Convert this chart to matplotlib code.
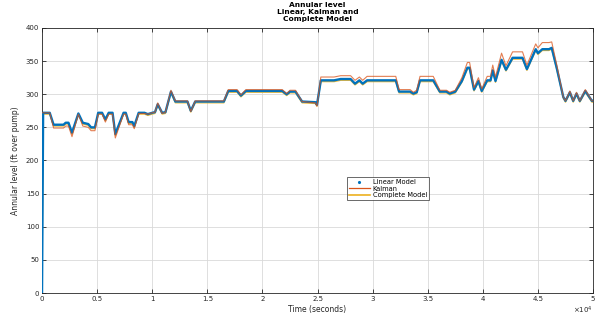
import matplotlib
matplotlib.use("Agg")
import matplotlib.pyplot as plt
from matplotlib.lines import Line2D
import numpy as np

# time in thousands of seconds
time_k = [0.0, 0.1, 0.7, 1.05, 1.95, 2.15, 2.4, 2.72, 3.3, 3.7, 4.2, 4.45, 4.8, 5.1, 5.45, 5.75,
          6.05, 6.4, 6.65, 7.4, 7.6, 7.86, 8.2, 8.37, 8.77, 9.3, 9.6, 10.0, 10.25, 10.5, 10.9,
          11.2, 11.7, 12.1, 13.2, 13.5, 13.9, 16.5, 16.9, 17.7, 18.05, 18.5, 21.8, 22.2, 22.5,
          23.0, 23.6, 24.8, 24.95, 25.3, 26.5, 27.1, 28.0, 28.4, 28.8, 29.1, 29.5, 32.1, 32.4,
          33.4, 33.7, 34.0, 34.3, 35.5, 36.1, 36.7, 37.0, 37.5, 38.1, 38.6, 38.8, 39.2, 39.6,
          39.9, 40.4, 40.7, 40.9, 41.15, 41.7, 42.1, 42.7, 43.6, 44.0, 44.8, 45.0, 45.4, 46.0,
          46.25, 46.7, 47.3, 47.5, 47.9, 48.2, 48.5, 48.8, 49.3, 49.9, 50.0]

linear = [0, 272, 272, 254, 254, 257, 257, 242, 271, 257, 255, 250, 250, 272, 272, 262,
          272, 272, 240, 272, 272, 258, 258, 252, 272, 272, 270, 272, 273, 285, 272,
          273, 304, 289, 289, 275, 289, 289, 305, 305, 298, 305, 305, 300, 304,
          304, 289, 288, 284, 321, 321, 323, 323, 316, 321, 316, 321, 321, 304,
          304, 301, 303, 321, 321, 304, 304, 301, 304, 320, 340, 340, 307, 320,
          305, 321, 321, 336, 320, 352, 337, 355, 355, 338, 368, 362, 368, 368,
          370, 340, 296, 290, 303, 290, 301, 290, 305, 290, 290]

kalman = [272, 272, 272, 249, 249, 252, 252, 236, 270, 252, 250, 245, 245, 270, 270, 258,
          270, 270, 234, 270, 270, 254, 254, 248, 271, 271, 270, 272, 273, 287, 271,
          273, 306, 290, 290, 274, 290, 290, 307, 307, 299, 307, 307, 301, 306,
          306, 289, 287, 282, 326, 326, 328, 328, 321, 326, 321, 327, 327, 307,
          307, 303, 306, 327, 327, 306, 306, 303, 306, 325, 348, 348, 310, 325,
          308, 327, 327, 344, 326, 362, 343, 364, 364, 344, 376, 370, 378, 378,
          379, 345, 296, 290, 305, 290, 303, 290, 307, 290, 290]

complete = [0, 270, 270, 252, 252, 255, 255, 240, 269, 255, 253, 248, 248, 270, 270, 260,
            270, 270, 238, 270, 270, 256, 256, 250, 270, 270, 268, 270, 271, 283, 270,
            271, 302, 287, 287, 273, 287, 287, 303, 303, 296, 303, 303, 298, 302,
            302, 287, 286, 282, 319, 319, 321, 321, 314, 319, 314, 319, 319, 302,
            302, 299, 301, 319, 319, 302, 302, 299, 302, 318, 338, 338, 305, 318,
            303, 319, 319, 334, 318, 350, 335, 353, 353, 336, 366, 360, 366, 366,
            368, 338, 294, 288, 301, 288, 299, 288, 303, 288, 288]

t = np.array(time_k) * 1000.0

c_blue = (0.0, 0.447, 0.741)
c_orange = (0.85, 0.325, 0.098)
c_yellow = (0.929, 0.694, 0.125)
txt = (0.15, 0.15, 0.15)

fig = plt.figure(figsize=(6.02, 3.17), dpi=100)
ax = fig.add_axes([0.0698, 0.0757, 0.9153, 0.836])

ax.plot(t, linear, color=c_blue, lw=1.7, solid_joinstyle='round', zorder=3)
ax.plot(t, kalman, color=c_orange, lw=0.8, alpha=0.75, zorder=4)
ax.plot(t, complete, color=c_yellow, lw=0.9, alpha=0.9, zorder=2)

ax.set_xlim(0, 50000)
ax.set_ylim(0, 400)
xt = np.arange(0, 50001, 5000)
ax.set_xticks(xt)
ax.set_xticklabels(['0', '0.5', '1', '1.5', '2', '2.5', '3', '3.5', '4', '4.5', '5'])
ax.set_yticks(np.arange(0, 401, 50))
ax.tick_params(direction='in', length=3, width=0.6, labelsize=5, colors=txt, pad=2,
               top=True, right=True)
ax.grid(True, color=(0.85, 0.85, 0.85), lw=0.6)
ax.set_axisbelow(True)
for s in ax.spines.values():
    s.set_color(txt)
    s.set_linewidth(0.6)

ax.set_xlabel('Time (seconds)', fontsize=5.5, color=txt, labelpad=2)
ax.set_ylabel('Annular level (ft over pump)', fontsize=5.5, color=txt, labelpad=4)
fig.text(0.5275, 0.995, 'Annular level\nLinear, Kalman and\nComplete Model', fontsize=5.4,
         fontweight='bold', color='black', ha='center', va='top', linespacing=1.2)
ax.text(1.0, -0.065, r'$\times10^4$', transform=ax.transAxes, fontsize=5,
        color=txt, ha='right', va='center')

handles = [Line2D([], [], color=c_blue, marker='.', ls='none', markersize=2.5),
           Line2D([], [], color=c_orange, lw=0.9),
           Line2D([], [], color=c_yellow, lw=1.2)]
leg = ax.legend(handles, ['Linear Model', 'Kalman', 'Complete Model'],
                loc='lower left', bbox_to_anchor=(0.553, 0.35), fontsize=4.8,
                frameon=True, fancybox=False, borderpad=0.3, handlelength=3.2,
                handletextpad=0.4, labelspacing=0.1, borderaxespad=0)
leg.get_frame().set_edgecolor(txt)
leg.get_frame().set_linewidth(0.6)

fig.savefig('out.png', dpi=100)
